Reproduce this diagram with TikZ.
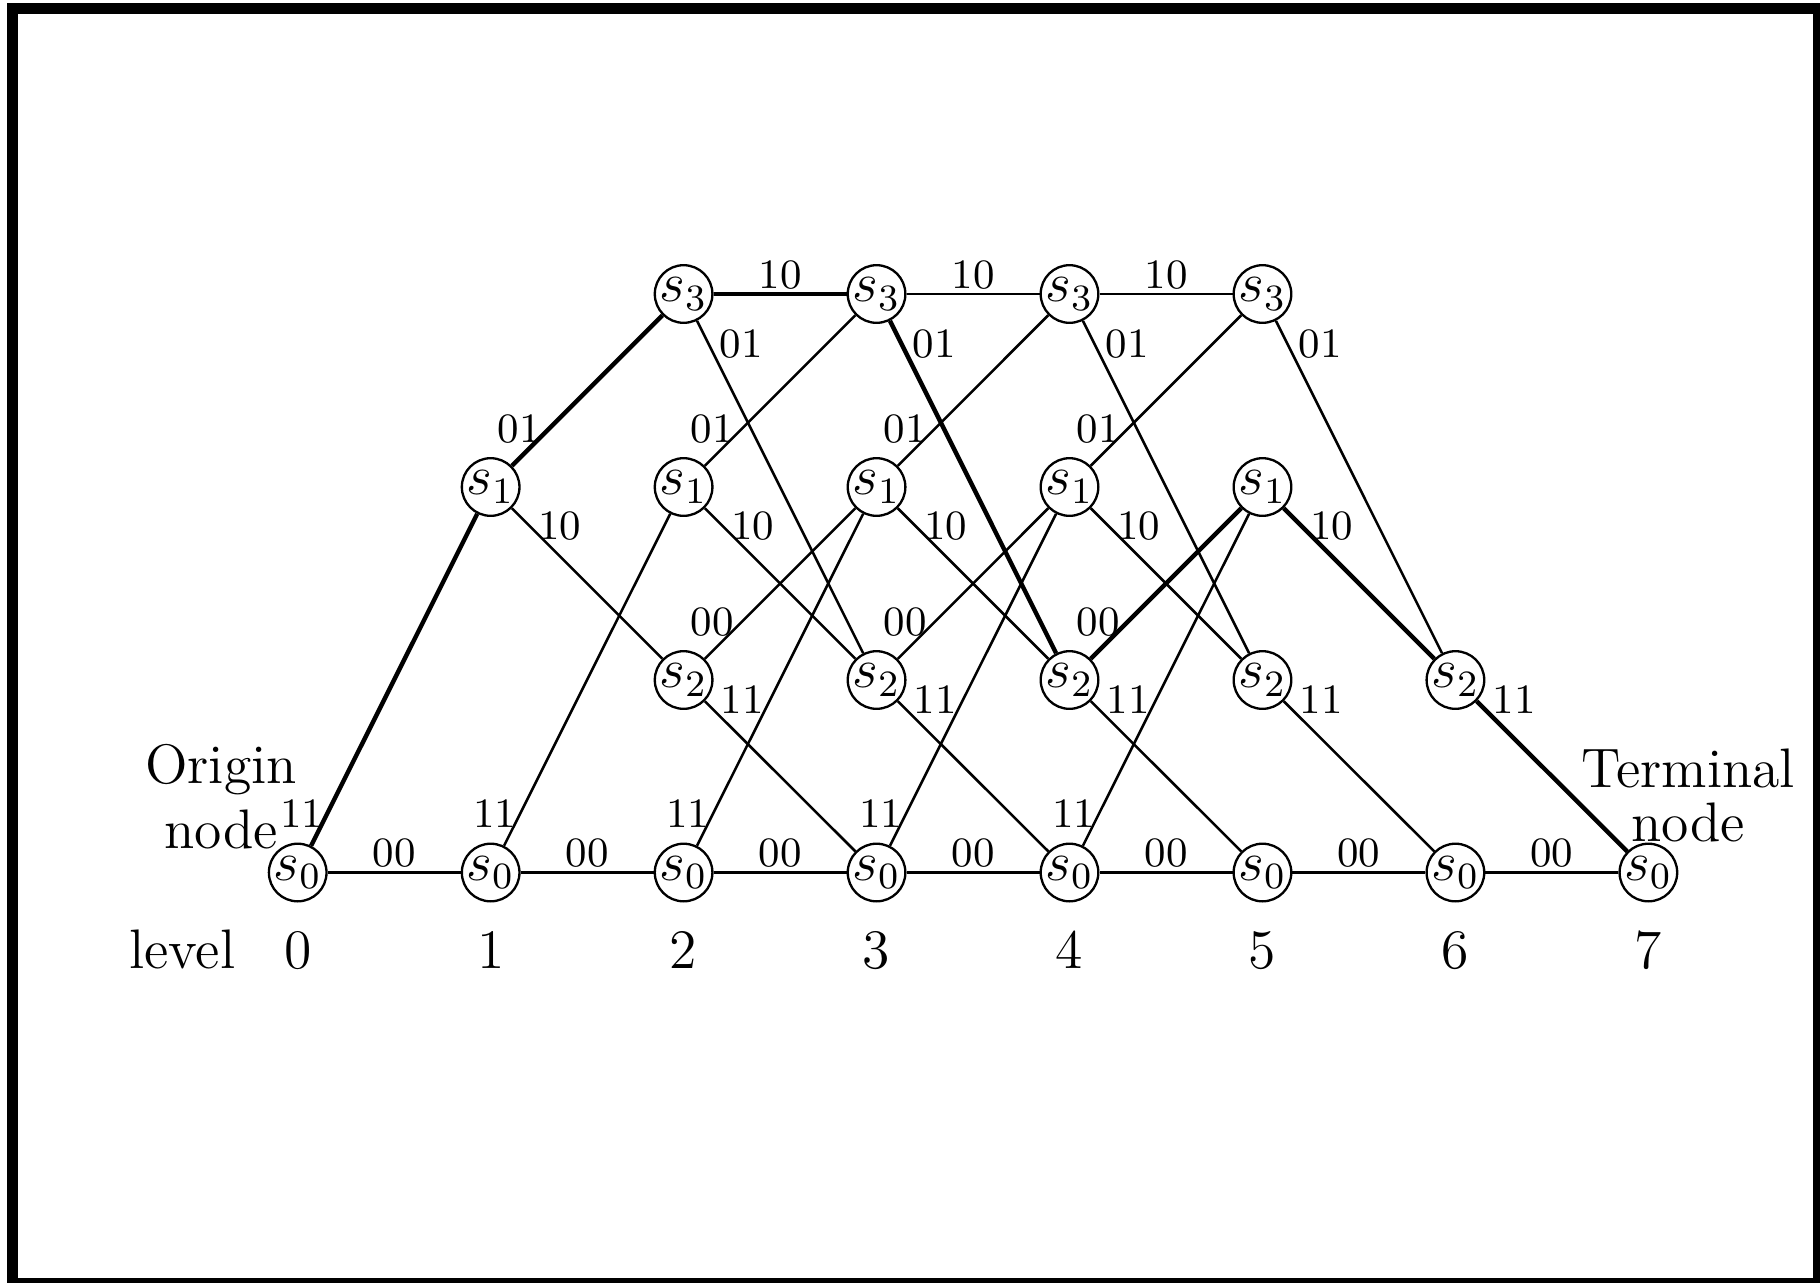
\documentclass[tikz,border=0pt]{standalone}
\usepackage{tikz}
\usepackage{amsmath}

\tikzset{
  state/.style={circle, draw, line width=0.5pt, inner sep=0pt, font=\large},
  branch/.style={line width=0.55pt},
  survivor/.style={line width=0.95pt},
  lbl/.style={font=\small, inner sep=0pt, anchor=center},
  lblH/.style={lbl, pos=0.5, shift={(0,-19.3)}},
  lblSU/.style={lbl, pos=0, shift={(-9.4,-32.4)}},
  lblDU/.style={lbl, pos=0, shift={(7.4,-37.2)}},
  lblDA/.style={lbl, pos=0, shift={(47.9,18.2)}},
  lblDB/.style={lbl, pos=0, shift={(37.4,-1.1)}},
  lblSD/.style={lbl, pos=0, shift={(44.3,23.1)}},
  txt/.style={font=\large, inner sep=0pt},
  frame/.style={line width=2.37pt}
}

\begin{document}
\begin{tikzpicture}[x=0.2155pt,y=-0.2155pt]
\useasboundingbox (0,0) rectangle (1820,1282);
\draw[frame] (12.5,8.5) rectangle (1818.2,1283.2);

% trellis states
\node[state] (L0s0) at (297.7,872.5) {$s_0$};
\node[state] (L1s0) at (490.65,872.5) {$s_0$};
\node[state] (L1s1) at (490.65,487) {$s_1$};
\node[state] (L2s0) at (683.6,872.5) {$s_0$};
\node[state] (L2s2) at (683.6,680) {$s_2$};
\node[state] (L2s1) at (683.6,487) {$s_1$};
\node[state] (L2s3) at (683.6,294) {$s_3$};
\node[state] (L3s0) at (876.55,872.5) {$s_0$};
\node[state] (L3s2) at (876.55,680) {$s_2$};
\node[state] (L3s1) at (876.55,487) {$s_1$};
\node[state] (L3s3) at (876.55,294) {$s_3$};
\node[state] (L4s0) at (1069.5,872.5) {$s_0$};
\node[state] (L4s2) at (1069.5,680) {$s_2$};
\node[state] (L4s1) at (1069.5,487) {$s_1$};
\node[state] (L4s3) at (1069.5,294) {$s_3$};
\node[state] (L5s0) at (1262.45,872.5) {$s_0$};
\node[state] (L5s2) at (1262.45,680) {$s_2$};
\node[state] (L5s1) at (1262.45,487) {$s_1$};
\node[state] (L5s3) at (1262.45,294) {$s_3$};
\node[state] (L6s0) at (1455.4,872.5) {$s_0$};
\node[state] (L6s2) at (1455.4,680) {$s_2$};
\node[state] (L7s0) at (1648.35,872.5) {$s_0$};

% branches
\draw[branch] (L0s0) edge node[lblH] {00} (L1s0)
                     edge[survivor] node[lblSU] {11} (L1s1);
\draw[branch] (L1s0) edge node[lblH] {00} (L2s0)
                     edge node[lblSU] {11} (L2s1);
\draw[branch] (L1s1) edge node[lblDA] {10} (L2s2)
                     edge[survivor] node[lblDU] {01} (L2s3);
\draw[branch] (L2s0) edge node[lblH] {00} (L3s0)
                     edge node[lblSU] {11} (L3s1);
\draw[branch] (L2s1) edge node[lblDA] {10} (L3s2)
                     edge node[lblDU] {01} (L3s3);
\draw[branch] (L2s2) edge node[lblDB] {11} (L3s0)
                     edge node[lblDU] {00} (L3s1);
\draw[branch] (L2s3) edge[survivor] node[lblH] {10} (L3s3)
                     edge node[lblSD] {01} (L3s2);
\draw[branch] (L3s0) edge node[lblH] {00} (L4s0)
                     edge node[lblSU] {11} (L4s1);
\draw[branch] (L3s1) edge node[lblDA] {10} (L4s2)
                     edge node[lblDU] {01} (L4s3);
\draw[branch] (L3s2) edge node[lblDB] {11} (L4s0)
                     edge node[lblDU] {00} (L4s1);
\draw[branch] (L3s3) edge node[lblH] {10} (L4s3)
                     edge[survivor] node[lblSD] {01} (L4s2);
\draw[branch] (L4s0) edge node[lblH] {00} (L5s0)
                     edge node[lblSU] {11} (L5s1);
\draw[branch] (L4s1) edge node[lblDA] {10} (L5s2)
                     edge node[lblDU] {01} (L5s3);
\draw[branch] (L4s2) edge node[lblDB] {11} (L5s0)
                     edge[survivor] node[lblDU] {00} (L5s1);
\draw[branch] (L4s3) edge node[lblH] {10} (L5s3)
                     edge node[lblSD] {01} (L5s2);
\draw[branch] (L5s0) edge node[lblH] {00} (L6s0);
\draw[branch] (L5s1) edge[survivor] node[lblDA] {10} (L6s2);
\draw[branch] (L5s2) edge node[lblDB] {11} (L6s0);
\draw[branch] (L5s3) edge node[lblSD] {01} (L6s2);
\draw[branch] (L6s0) edge node[lblH] {00} (L7s0);
\draw[branch] (L6s2) edge[survivor] node[lblDB] {11} (L7s0);

% captions
\node[txt, align=center] (origin) at (221,796.8) {Origin\\node};
\node[txt, align=center] (terminal) at (1688,795.2) {Terminal\\[-2.3pt]node};
\node[txt, anchor=base] (level) at (182.2,968.3) {level};
\node[txt, anchor=base] (n0) at (297.7,968.3) {0};
\node[txt, anchor=base] (n1) at (490.65,968.3) {1};
\node[txt, anchor=base] (n2) at (683.6,968.3) {2};
\node[txt, anchor=base] (n3) at (876.55,968.3) {3};
\node[txt, anchor=base] (n4) at (1069.5,968.3) {4};
\node[txt, anchor=base] (n5) at (1262.45,968.3) {5};
\node[txt, anchor=base] (n6) at (1455.4,968.3) {6};
\node[txt, anchor=base] (n7) at (1648.35,968.3) {7};
\end{tikzpicture}
\end{document}
